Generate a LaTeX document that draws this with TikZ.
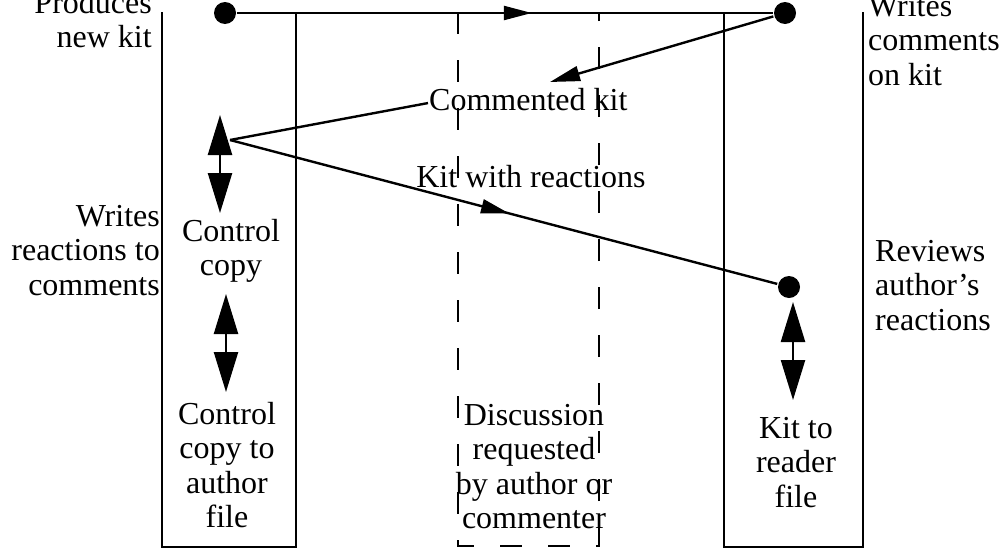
\documentclass[tikz,border=0pt]{standalone}
\usepackage{fontspec}
\setmainfont{Liberation Serif}
\usetikzlibrary{arrows.meta,decorations.markings}
\definecolor{LaneInk}{HTML}{000000}

\begin{document}
\begin{tikzpicture}[x=1pt,y=-1pt,>={Triangle[length=40pt,width=24pt]},line width=2.4pt,
    midarrow/.style={postaction={decorate},decoration={markings,
      mark=at position #1 with {\arrow{Triangle[length=28pt,width=14pt]}}}}]
  \tikzstyle{txt}=[inner sep=0pt,font=\fontsize{32}{34.5}\selectfont]
  \tikzstyle{dot}=[circle,fill=LaneInk,inner sep=0pt,minimum size=22pt]
  \tikzstyle{lane}=[draw=LaneInk,line width=2.4pt]
  \useasboundingbox (0,0) rectangle (1006,549);
  \clip (0,0) rectangle (1006,549);
  % lanes
  \draw[lane] (162,12) -- (162,547) -- (296,547) -- (296,12);
  \draw[lane] (724,12) -- (724,547) -- (863,547) -- (863,12);
  \draw[lane,dash pattern=on 22pt off 26pt] (458,12) -- (458,546) -- (599,546) -- (599,12);
  % events
  \node[dot] (prod) at (225,13) {};
  \node[dot] (cmtr) at (785,13) {};
  \node[dot] (rev) at (789,287) {};
  \coordinate (reac) at (230,140);
  \coordinate (cmtin) at (550,82);
  \coordinate (up1) at (220,115);
  \coordinate (dn1) at (220,213);
  \coordinate (up2) at (226,294);
  \coordinate (dn2) at (226,392);
  \coordinate (up3) at (793,302);
  \coordinate (dn3) at (793,400);
  % labels
  \node[txt,anchor=north east,align=right] (produces) at (153,-10) {Produces\\new kit};
  \node[txt,anchor=north west,align=left] (writes) at (867,-6) {Writes\\comments\\on kit};
  \node[txt,anchor=base west] (cmt) at (428,110) {Commented kit};
  \node[txt,anchor=base] (kwr) at (531,187) {Kit with reactions};
  \node[txt,anchor=north east,align=right] (writesr) at (161,204) {Writes\\reactions to\\comments};
  \node[txt,anchor=north,align=center] (ctl) at (231,218) {Control\\copy};
  \node[txt,anchor=north,align=center] (ctf) at (227,401) {Control\\copy to\\author\\file};
  \node[txt,anchor=north,align=center] (disc) at (534,403) {Discussion\\requested\\by author or\\commenter};
  \node[txt,anchor=north west,align=left] (reviews) at (874,239) {Reviews\\author's\\reactions};
  \node[txt,anchor=north,align=center] (kit) at (796,416) {Kit to\\reader\\file};
  % flows
  \draw[midarrow=0.55] (prod) -- (cmtr);
  \draw[-{Triangle[length=30pt,width=15pt]}] (cmtr) -- (cmtin);
  \draw ([yshift=-4pt]cmt.west) -- (reac);
  \draw[midarrow=0.51] (reac) -- (rev);
  \draw[<->] (up1) -- (dn1);
  \draw[<->] (up2) -- (dn2);
  \draw[<->] (up3) -- (dn3);
\end{tikzpicture}
\end{document}
